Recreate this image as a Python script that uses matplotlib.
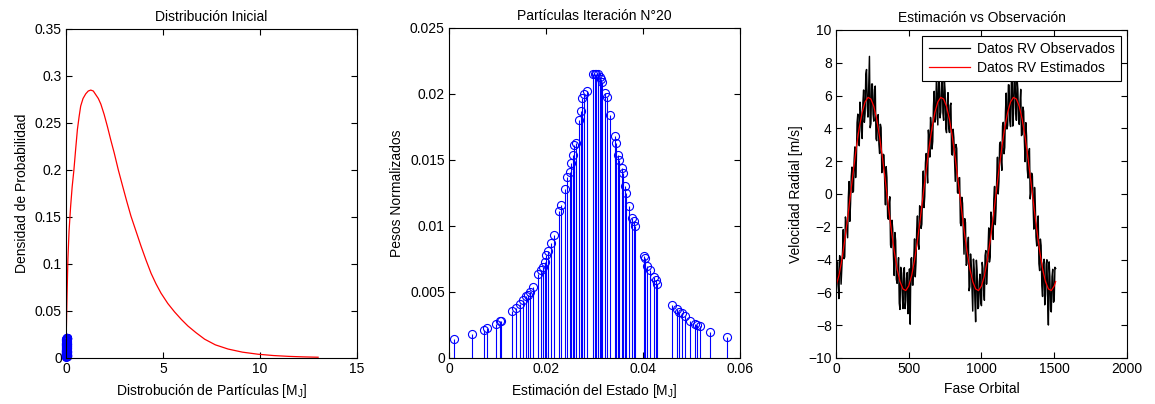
import numpy as np
import matplotlib
matplotlib.use('Agg')
import matplotlib.pyplot as plt

plt.rcParams['font.family'] = ['Liberation Sans', 'DejaVu Sans']
plt.rcParams['font.size'] = 10
plt.rcParams['axes.linewidth'] = 0.8

########################################
# Data

# initial distribution (red curve, left panel)
pdf_x = [0.0, 0.02, 0.05, 0.10, 0.16, 0.24, 0.32, 0.41, 0.50, 0.59, 0.68, 0.76,
         0.88, 1.02, 1.15, 1.28, 1.41, 1.54, 1.67, 1.80, 1.97, 2.14, 2.31, 2.49,
         2.70, 2.92, 3.13, 3.35, 3.61, 3.87, 4.13, 4.39, 4.64, 4.90, 5.25, 5.60,
         5.95, 6.29, 6.70, 7.15, 7.70, 8.36, 9.1, 9.9, 10.7, 11.5, 12.2, 13.0]
pdf_y = [0.0, 0.03, 0.06, 0.105, 0.135, 0.161, 0.182, 0.200, 0.222, 0.243, 0.257, 0.268,
         0.276, 0.281, 0.284, 0.285, 0.284, 0.280, 0.276, 0.270, 0.259, 0.246, 0.232, 0.218,
         0.200, 0.183, 0.167, 0.151, 0.135, 0.119, 0.104, 0.090, 0.079, 0.069, 0.058, 0.049,
         0.041, 0.034, 0.027, 0.020, 0.014, 0.0095, 0.0062, 0.0040, 0.0026, 0.0017, 0.0012, 0.0008]

# particles at iteration 20 (state estimate, normalized weight)
part_x = [0.0010, 0.0048, 0.0072, 0.0079, 0.0098, 0.0105, 0.0107, 0.0131, 0.0138, 0.0146,
          0.0153, 0.0158, 0.0162, 0.0167, 0.0173, 0.0184, 0.0189, 0.0193, 0.0198, 0.0201,
          0.0204, 0.0211, 0.0217, 0.0227, 0.0232, 0.0239, 0.0244, 0.0249, 0.0251, 0.0255,
          0.0258, 0.0263, 0.0268, 0.0272, 0.0275, 0.0279, 0.0284, 0.0297, 0.0301, 0.0304,
          0.0308, 0.0311, 0.0313, 0.0316, 0.0321, 0.0325, 0.0332, 0.0342, 0.0344, 0.0349,
          0.0351, 0.0356, 0.0359, 0.0363, 0.0365, 0.0372, 0.0378, 0.0381, 0.0383, 0.0402,
          0.0405, 0.0409, 0.0414, 0.0423, 0.0426, 0.0429, 0.0461, 0.0471, 0.0475, 0.0480,
          0.0487, 0.0497, 0.0507, 0.0512, 0.0518, 0.0538, 0.0574]
part_w = [0.00146, 0.00182, 0.00215, 0.00227, 0.0026, 0.0028, 0.00283, 0.00354, 0.0038, 0.0041,
          0.0044, 0.0047, 0.0048, 0.0050, 0.0054, 0.0064, 0.0067, 0.0069, 0.0073, 0.0078,
          0.0081, 0.0087, 0.0093, 0.0111, 0.0116, 0.0128, 0.0137, 0.0141, 0.0148, 0.0154,
          0.0161, 0.0163, 0.0180, 0.0187, 0.0197, 0.0200, 0.0202, 0.0215, 0.0215, 0.0215,
          0.0215, 0.0213, 0.0211, 0.0209, 0.0201, 0.0198, 0.0184, 0.0168, 0.0163, 0.0154,
          0.0150, 0.0144, 0.0140, 0.0130, 0.0125, 0.0115, 0.0106, 0.0104, 0.0100, 0.0077,
          0.0076, 0.0070, 0.0067, 0.0061, 0.0059, 0.0056, 0.0040, 0.0037, 0.0035, 0.0034,
          0.0032, 0.0028, 0.0026, 0.0025, 0.0024, 0.0020, 0.0016]

# observed RV at phase 0, 10, 20 ... 1510
rv_obs_even = [-6.51, -4.14, -6.38, -3.95, -4.54, -2.17, -3.84, -1.77, -2.67, 0.76,
               -0.60, 1.64, 0.17, 2.87, 2.04, 4.87, 2.94, 5.05, 3.38, 6.34,
               4.91, 7.59, 4.69, 8.39, 4.29, 6.71, 4.44, 6.58, 3.25, 4.84,
               2.47, 4.04, 1.57, 2.37, -0.66, 1.00, -1.54, -0.17, -3.27, -2.14,
               -4.97, -2.84, -5.45, -3.88, -7.04, -4.81, -6.99, -4.49, -6.49, -4.79,
               -6.41, -7.94, -3.88, -5.55, -2.74, -4.17, -1.34, -3.37, -0.87, -1.84,
               1.40, -0.16, 2.47, 0.67, 3.34, 4.67, 2.74, 5.35, 4.38, 6.94,
               4.21, 6.89, 4.99, 7.89, 4.49, 6.31, 3.74, 6.18, 3.75, 5.54,
               2.37, 3.44, 0.77, 2.77, 0.04, 1.00, -1.94, -0.57, -3.67, -1.74,
               -4.27, -2.64, -5.65, -4.38, -7.14, -4.61, -7.79, -4.69, -6.89, -4.89,
               -6.81, -4.54, -6.48, -3.45, -4.64, -2.07, -3.84, -1.47, -2.77, 0.46,
               -0.90, 2.24, 0.77, 3.17, 1.44, 4.37, 2.84, 6.15, 4.18, 6.64,
               4.11, 7.99, 4.89, 7.59, 4.49, 6.41, 4.24, 6.38, 3.65, 5.04,
               1.97, 3.54, 0.97, 2.77, 0.14, 1.10, -2.14, -0.67, -3.17, -1.34,
               -4.67, -3.14, -6.25, -3.98, -6.14, -4.01, -7.99, -4.99, -7.19, -4.59,
               -6.51, -4.54]
# observed RV at phase 5, 15, 25 ... 1505
rv_obs_odd = [-4.97, -5.46, -3.76, -5.50, -3.55, -3.95, -1.40, -2.22, -0.20, -1.67,
              1.07, 0.10, 2.12, 1.00, 4.35, 3.55, 5.60, 3.86, 5.56, 4.37,
              7.30, 5.34, 6.69, 4.04, 6.70, 4.87, 6.36, 3.36, 4.60, 3.05,
              4.25, 1.30, 2.42, 0.70, 1.67, -1.37, -0.60, -3.12, -1.60, -3.75,
              -2.35, -5.20, -4.56, -6.66, -4.47, -6.00, -4.64, -6.99, -5.14, -7.30,
              -4.57, -3.96, -5.56, -3.90, -5.05, -2.15, -3.00, -0.72, -2.10, 0.23,
              -0.83, 1.90, 1.42, 3.90, 2.25, 4.05, 3.20, 6.26, 4.56, 5.67,
              7.40, 4.64, 6.39, 4.94, 7.00, 3.97, 5.56, 4.06, 5.40, 2.45,
              3.95, 2.00, 3.02, 0.10, 0.97, -1.77, -0.20, -2.12, -1.50, -4.35,
              -3.35, -5.90, -3.66, -5.76, -3.97, -6.50, -4.04, -6.99, -5.34, -6.60,
              -4.17, -5.86, -3.76, -5.50, -3.45, -4.15, -1.10, -2.32, -0.30, -1.87,
              0.97, 0.00, 3.02, 2.10, 4.15, 2.45, 5.00, 3.96, 6.66, 4.47,
              6.60, 4.14, 6.99, 5.24, 7.00, 4.57, 5.56, 3.56, 5.30, 3.25,
              4.35, 1.50, 2.52, -0.30, 1.27, -0.67, 0.40, -2.62, -1.90, -4.25,
              -2.75, -5.60, -4.26, -6.76, -4.27, -6.40, -4.14, -7.09, -5.04, -6.60,
              -4.47]

# estimated RV, every 20 units from 0 to 1500, then 1510
phase_est = list(range(0, 1501, 20)) + [1510]
rv_est = [-5.61, -4.98, -4.04, -2.84, -1.47, 0.00, 1.47, 2.84, 4.04, 4.98,
          5.61, 5.89, 5.79, 5.34, 4.55, 3.47, 2.17, 0.74, -0.74, -2.17,
          -3.47, -4.55, -5.34, -5.79, -5.89,
          -5.61, -4.98, -4.04, -2.84, -1.47, 0.00, 1.47, 2.84, 4.04, 4.98,
          5.61, 5.89, 5.79, 5.34, 4.55, 3.47, 2.17, 0.74, -0.74, -2.17,
          -3.47, -4.55, -5.34, -5.79, -5.89,
          -5.61, -4.98, -4.04, -2.84, -1.47, 0.00, 1.47, 2.84, 4.04, 4.98,
          5.61, 5.89, 5.79, 5.34, 4.55, 3.47, 2.17, 0.74, -0.74, -2.17,
          -3.47, -4.55, -5.34, -5.79, -5.89,
          -5.61, -5.34]

# merge the two observed samplings into one time ordered series
phase_obs = np.concatenate([np.arange(len(rv_obs_even)) * 10,
                            np.arange(len(rv_obs_odd)) * 10 + 5])
rv_obs = np.concatenate([rv_obs_even, rv_obs_odd])
order = np.argsort(phase_obs)
phase_obs, rv_obs = phase_obs[order], rv_obs[order]

########################################

fig = plt.figure(figsize=(11.55, 4.04), dpi=100)
ax1 = fig.add_axes([0.0571, 0.1139, 0.2519, 0.8144])
ax2 = fig.add_axes([0.3887, 0.1139, 0.2519, 0.8168])
ax3 = fig.add_axes([0.7238, 0.1139, 0.2519, 0.8119])


def matlab_style(ax):
    ax.tick_params(direction='in', top=True, right=True, length=4, width=0.8,
                   labelsize=10, pad=3)
    for s in ax.spines.values():
        s.set_color('black')


def particles(ax, clip=True):
    markers, stems, base = ax.stem(part_x, part_w, linefmt='b-', markerfmt='bo', basefmt=' ')
    markers.set_markerfacecolor('none')
    markers.set_markersize(5.8)
    markers.set_markeredgewidth(0.8)
    markers.set_clip_on(clip)
    stems.set_linewidth(0.8)


# left: initial distribution
ax1.plot(pdf_x, pdf_y, color='red', lw=0.9)
particles(ax1, clip=False)
ax1.set_xlim(0, 15)
ax1.set_ylim(0, 0.35)
ax1.set_xticks([0, 5, 10, 15])
ax1.set_yticks([0, 0.05, 0.1, 0.15, 0.2, 0.25, 0.3, 0.35])
ax1.set_yticklabels(['0', '0.05', '0.1', '0.15', '0.2', '0.25', '0.3', '0.35'])
ax1.set_title('Distribución Inicial', fontsize=10, pad=6)
ax1.set_xlabel(r'Distrobución de Partículas [M$_\mathregular{J}$]', labelpad=4)
ax1.set_ylabel('Densidad de Probabilidad', labelpad=4)
matlab_style(ax1)

# middle: particles at iteration 20
particles(ax2)
ax2.set_xlim(0, 0.06)
ax2.set_ylim(0, 0.025)
ax2.set_xticks([0, 0.02, 0.04, 0.06])
ax2.set_xticklabels(['0', '0.02', '0.04', '0.06'])
ax2.set_yticks([0, 0.005, 0.01, 0.015, 0.02, 0.025])
ax2.set_yticklabels(['0', '0.005', '0.01', '0.015', '0.02', '0.025'])
ax2.set_title('Partículas Iteración N°20', fontsize=10, pad=6)
ax2.set_xlabel(r'Estimación del Estado [M$_\mathregular{J}$]', labelpad=4)
ax2.set_ylabel('Pesos Normalizados', labelpad=4)
matlab_style(ax2)

# right: estimation vs observation
ax3.plot(phase_obs, rv_obs, color='black', lw=1.05, label='Datos RV Observados')
ax3.plot(phase_est, rv_est, color='red', lw=0.9, label='Datos RV Estimados')
ax3.set_xlim(0, 2000)
ax3.set_ylim(-10, 10)
ax3.set_xticks([0, 500, 1000, 1500, 2000])
ax3.set_yticks(range(-10, 11, 2))
ax3.set_title('Estimación vs Observación', fontsize=10, pad=6)
ax3.set_xlabel('Fase Orbital', labelpad=4)
ax3.set_ylabel('Velocidad Radial [m/s]', labelpad=4)
leg = ax3.legend(loc='upper right', fontsize=10, fancybox=False, framealpha=1,
                 edgecolor='black', handlelength=3.0, handletextpad=0.5,
                 borderpad=0.45, labelspacing=0.35, borderaxespad=0.4)
leg.get_frame().set_linewidth(0.8)
for h in leg.get_lines():
    h.set_linewidth(0.9)
matlab_style(ax3)

fig.savefig('out.png', dpi=100)
